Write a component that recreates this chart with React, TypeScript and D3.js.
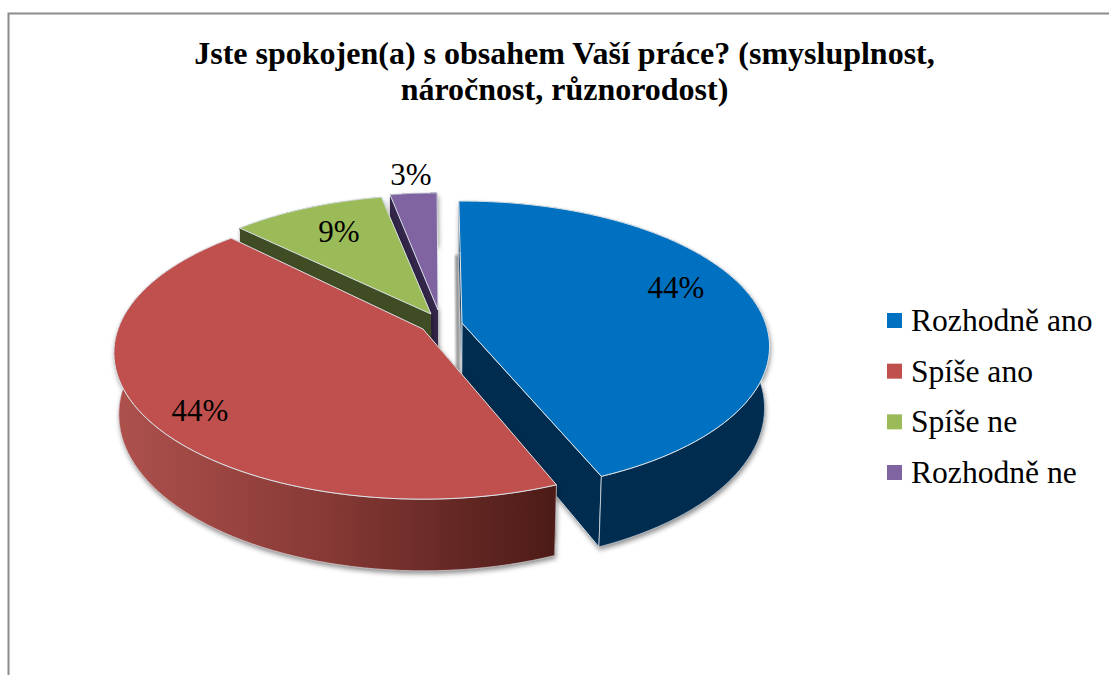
import React from "react";
import * as d3 from "d3";

const categories = ["Rozhodně ano", "Spíše ano", "Spíše ne", "Rozhodně ne"];
const shareValues = [44, 44, 9, 3];
const percentLabels = ["44%", "44%", "9%", "3%"];
const titleLines = [
  "Jste spokojen(a) s obsahem Vaší práce? (smysluplnost,",
  "náročnost, různorodost)",
];

const topColors = ["#0070C0", "#C0504D", "#9BBB59", "#8064A2"];
const wallColors = ["#002C4F", "url(#redWall)", "#404C23", "#33264A"];
const cutColors = ["#002C4F", "#5A211D", "#404C23", "#33264A"];

const W = 1109;
const H = 675;
const RADIUS = 305;
const TILT = 0.467;
const PERSP = 0.163;
const DEPTH = 60;
const VANISH_X = 440;
const CONVERGE = 0.985;
const START = (-1.4 * Math.PI) / 180;
const DEG = Math.PI / 180;
const apexes: [number, number][] = [
  [462, 323],
  [423, 329],
  [431, 314],
  [438, 310],
];
// small corrections for the reference's perspective distortion
const radiusFactor = [0.995, 1, 0.965, 0.95];
const startNudge = [0.7, 1.2, -1.5, 1.2];
const endNudge = [0, 0, 1, 1.2];
const labelPos: [number, number][] = [
  [676, 298],
  [200, 421],
  [339, 242],
  [411, 185],
];

type Pt = [number, number];

function rim(apex: Pt, ang: number, f: number): Pt {
  const u = RADIUS * f * Math.sin(ang);
  const v = -RADIUS * f * Math.cos(ang);
  const s = 1 / (1 - (PERSP * v) / RADIUS);
  return [apex[0] + u * s, apex[1] + v * TILT * s];
}

function scaleAt(ang: number): number {
  return 1 / (1 + PERSP * Math.cos(ang));
}

function drop(p: Pt, s: number): Pt {
  return [VANISH_X + (p[0] - VANISH_X) * CONVERGE, p[1] + DEPTH * s];
}

const poly = (pts: Pt[]) => (d3.line()(pts) || "") + "Z";

export default function App() {
  const arcs = d3
    .pie<number>()
    .sort(null)
    .startAngle(START)
    .endAngle(START + 2 * Math.PI)(shareValues);

  const slices = arcs.map((a, i) => {
    const apex = apexes[i];
    const n = 80;
    const a0 = a.startAngle + startNudge[i] * DEG;
    const a1 = a.endAngle + endNudge[i] * DEG;
    const angs = d3.range(n + 1).map((k) => a0 + ((a1 - a0) * k) / n);
    const top = angs.map((t) => rim(apex, t, radiusFactor[i]));
    const bottom = angs.map((t) => drop(rim(apex, t, radiusFactor[i]), scaleAt(t)));
    const apexB = drop(apex, 1);
    return {
      i,
      top: poly([apex, ...top]),
      outer: poly([...top, ...bottom.slice().reverse()]),
      cutA: poly([apex, top[0], bottom[0], apexB]),
      cutB: poly([apex, top[n], bottom[n], apexB]),
    };
  });

  const order = [3, 2, 0, 1];
  const legendY = d3.scalePoint<string>().domain(categories).range([331, 483]);

  return (
    <svg
      width={W}
      height={H}
      style={{ position: "absolute", left: 0, top: 0, background: "#fff" }}
      fontFamily="'Liberation Serif', serif"
    >
      <defs>
        <linearGradient id="redWall" gradientUnits="userSpaceOnUse" x1={113} x2={556} y1={0} y2={0}>
          <stop offset="0" stopColor="#AE514D" />
          <stop offset="0.45" stopColor="#8A3B37" />
          <stop offset="1" stopColor="#4C1B17" />
        </linearGradient>
        <filter id="soft" x="-20%" y="-20%" width="140%" height="140%">
          <feDropShadow dx="1" dy="3" stdDeviation="2.5" floodColor="#000" floodOpacity="0.45" />
        </filter>
        <filter id="blur2" x="-300%" y="-10%" width="700%" height="120%">
          <feGaussianBlur stdDeviation="1.6" />
        </filter>
      </defs>

      <path d={`M8.5,${H}V13.5H${W}`} fill="none" stroke="#8C8C8C" strokeWidth={2} />

      <g fontWeight="bold" fontSize={32} textAnchor="middle" fill="#000">
        {titleLines.map((t, i) => (
          <text key={i} x={564.5} y={64 + i * 36}>
            {t}
          </text>
        ))}
      </g>

      <line x1={441} y1={250} x2={441} y2={345} stroke="#777" strokeWidth={3} filter="url(#blur2)" />
      <line x1={457} y1={255} x2={458} y2={372} stroke="#777" strokeWidth={3} filter="url(#blur2)" />

      {order.map((idx) => {
        const s = slices[idx];
        const edge = "#DCE3E8";
        return (
          <g key={idx}>
            <g filter="url(#soft)">
              <path d={s.outer} fill={wallColors[idx]} />
              <path d={s.cutA} fill={cutColors[idx]} />
              <path d={s.cutB} fill={cutColors[idx]} />
            </g>
            <path d={s.cutA} fill={cutColors[idx]} stroke={edge} strokeWidth={idx === 0 ? 0.7 : 0} />
            <path d={s.cutB} fill={cutColors[idx]} stroke={edge} strokeWidth={idx === 0 ? 1 : 0} />
            <path d={s.outer} fill={wallColors[idx]} stroke={edge} strokeWidth={idx < 2 ? 0.7 : 0} />
            <path d={s.top} fill={topColors[idx]} stroke={edge} strokeWidth={1} strokeLinejoin="round" />
          </g>
        );
      })}

      <g fontSize={31} textAnchor="middle" fill="#000">
        {percentLabels.map((l, i) => (
          <text key={i} x={labelPos[i][0]} y={labelPos[i][1]}>
            {l}
          </text>
        ))}
      </g>

      <g>
        {categories.map((c, i) => (
          <g key={c}>
            <rect
              x={887}
              y={(legendY(c) as number) - 18}
              width={15}
              height={15}
              fill={topColors[i]}
            />
            <text x={911} y={legendY(c)} fontSize={31.6} fill="#000">
              {c}
            </text>
          </g>
        ))}
      </g>
    </svg>
  );
}
